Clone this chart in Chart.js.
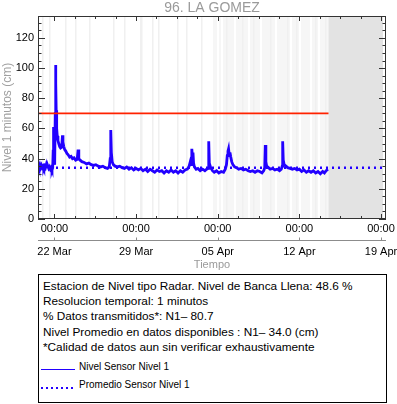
<!DOCTYPE html>
<html>
<head>
<meta charset="utf-8">
<script src="https://cdn.jsdelivr.net/npm/chart.js@4.4.1/dist/chart.umd.min.js"></script>
<style>
  body { margin: 0; background: #fff; font-family: "Liberation Sans", Arial, sans-serif; }
  #hoja { position: relative; width: 397px; height: 404px; overflow: hidden; }
  #grafica { position: absolute; left: 0; top: 0; }
  #cuadro { position: absolute; left: 38px; top: 274px; width: 347px; height: 127px; border: 1px solid #000; }
  .nota { position: absolute; left: 4px; font-size: 11.8px; line-height: 15px; color: #000; white-space: nowrap; }
  .ley { position: absolute; left: 40px; font-size: 10px; line-height: 12px; color: #000; white-space: nowrap; }
  .muestra { position: absolute; left: 2px; width: 34px; }
</style>
</head>
<body>
<div id="hoja">
  <canvas id="grafica" width="397" height="272"></canvas>
  <div id="cuadro"></div>
</div>
<script>
// dias contados desde 22 Mar 00:00
const titulo = "96. LA GOMEZ";
const diasTicks = [0, 7, 14, 21, 28];
const horasTicks = ["00:00", "00:00", "00:00", "00:00", "00:00"];
const fechasTicks = ["22 Mar", "29 Mar", "05 Apr", "12 Apr", "19 Apr"];
const nivelTicks = [0, 20, 40, 60, 80, 100, 120];

const inicio = -1.41;
const fin = 28.43;
const finDatos = 23.5;
const finVentana = 28.17;

const tiempo = [
  -1.40, -1.33, -1.26, -1.19, -1.12, -1.05, -0.98, -0.91, -0.84, -0.77, -0.70, -0.63, -0.56, -0.49,
  -0.42, -0.35, -0.28, -0.21, -0.15, -0.11, -0.09, -0.06, -0.03, 0.02, 0.07, 0.10, 0.12, 0.15, 0.19,
  0.24, 0.30, 0.37, 0.45, 0.53, 0.62, 0.69, 0.73, 0.80, 0.88, 0.97, 1.07, 1.18, 1.30, 1.42, 1.55,
  1.68, 1.82, 1.95, 2.03, 2.09, 2.20, 2.35, 2.55, 2.75, 2.95, 3.15, 3.35, 3.55, 3.75, 3.95, 4.15,
  4.35, 4.55, 4.70, 4.78, 4.83, 4.88, 4.95, 5.05, 5.2, 5.4, 5.6, 5.8, 6.0, 6.2, 6.4, 6.6, 6.8, 7.0,
  7.2, 7.4, 7.6, 7.8, 8.0, 8.2, 8.4, 8.6, 8.8, 9.0, 9.2, 9.4, 9.6, 9.8, 10.0, 10.2, 10.4, 10.6, 10.8,
  11.0, 11.2, 11.4, 11.55, 11.65, 11.73, 11.78, 11.83, 11.88, 11.93, 12.0, 12.15, 12.3, 12.5, 12.7,
  12.9, 13.05, 13.18, 13.23, 13.28, 13.4, 13.55, 13.7, 13.9, 14.1, 14.3, 14.5, 14.65, 14.75, 14.82,
  14.88, 14.93, 14.98, 15.05, 15.12, 15.2, 15.3, 15.45, 15.6, 15.8, 16.0, 16.2, 16.4, 16.6, 16.8,
  17.0, 17.2, 17.4, 17.6, 17.8, 17.95, 18.03, 18.08, 18.13, 18.2, 18.35, 18.5, 18.7, 18.9, 19.1,
  19.3, 19.45, 19.53, 19.57, 19.62, 19.7, 19.85, 20.0, 20.2, 20.4, 20.6, 20.8, 21.0, 21.2, 21.4,
  21.6, 21.8, 22.0, 22.2, 22.4, 22.6, 22.8, 23.0, 23.15, 23.3, 23.45
];
const nivel = [
  36.5, 34.5, 36, 34, 35.5, 34, 35, 33.5, 35, 34, 36, 34.5, 35, 33.5,
  34.5, 33, 34, 32.5, 34, 45, 61, 48, 38, 36, 70, 102, 90, 72, 60,
  55, 52, 50, 48, 47, 47.5, 55.5, 51, 48, 46, 45, 43.5, 42.5, 41, 41.5, 40,
  40.5, 39, 39.5, 46, 40, 39, 38, 37.5, 36.5, 37, 36, 35.5, 36, 35, 34.5, 35,
  34, 33.5, 34.5, 40, 59, 44, 38, 36, 35, 34.5, 35, 34, 33.5, 34.5, 33, 34, 32.5, 33.5,
  32.5, 33.5, 32, 33, 31.5, 33, 32, 31, 32.5, 31.5, 32, 30.5, 32, 31, 32.5, 31, 32, 30.5, 32,
  31, 32.5, 33, 35, 38, 36, 46.5, 41, 44, 37, 34.5, 33, 33.5, 32, 33,
  32, 33, 33.5, 51.5, 37, 34, 32, 31, 32, 30.5, 31.5, 31, 33, 36, 42,
  45, 46.5, 43, 44, 41, 38, 36, 34.5, 34, 33, 33.5, 32.5, 33, 32, 31.5,
  32, 31, 32, 31.5, 30.5, 32, 34, 49, 38, 35, 34, 33, 33.5, 32.5, 33,
  32, 33, 35, 51.5, 39, 36, 35, 34, 33.5, 33, 33.5, 32.5, 33, 31.5, 32.5,
  31, 32, 31, 32, 30.5, 31.5, 30, 31.5, 30.5, 32, 33
];

const nivelBancaLlena = 70;
const nivelPromedio = 34;

// franjas de datos faltantes (dias)
const diasSinDatos = [-1.1, -0.45, 0.9, 1.8, 3.0, 5.0, 6.0, 7.35, 7.45, 8.4, 8.9, 10.5,
  11.3, 12.6, 14.7, 16.1, 17.0, 18.5, 19.9, 20.7, 22.3, 23.2];
const diasBlancos = [13.9, 14.3, 15.4, 16.6, 17.6, 18.9, 20.2, 21.0, 21.9, 22.6];

const notas = [
  "Estacion de Nivel tipo Radar. Nivel de Banca Llena: 48.6 %",
  "Resolucion temporal: 1 minutos",
  "% Datos transmitidos*: N1\u2013 80.7",
  "Nivel Promedio en datos disponibles : N1\u2013 34.0 (cm)",
  "*Calidad de datos aun sin verificar exhaustivamente"
];
const leyendas = ["Nivel Sensor Nivel 1", "Promedio Sensor Nivel 1"];

const azul = "#2200ff";
const rojo = "#ff2200";
const fuente = "'Liberation Sans', Arial, sans-serif";

const serie = tiempo.map((t, i) => ({ x: t, y: nivel[i] }));

function fijarTicks(valores) {
  return (scale) => { scale.ticks = valores.map((v) => ({ value: v })); };
}
function sinPadding(scale) {
  scale.paddingLeft = 0; scale.paddingRight = 0;
  scale.paddingTop = 0; scale.paddingBottom = 0;
}

const marco = {
  id: "marco",
  beforeDatasetsDraw(chart) {
    const { ctx, chartArea: a, scales: { x } } = chart;
    const px = (v) => x.getPixelForValue(v);
    ctx.save();
    ctx.fillStyle = "#f6f6f6";
    ctx.fillRect(px(13.6), a.top, px(finDatos) - px(13.6), a.height);
    ctx.fillStyle = "#ffffff";
    diasBlancos.forEach((d) => ctx.fillRect(Math.round(px(d)), a.top, 2, a.height));
    ctx.fillStyle = "#f0f0f0";
    diasSinDatos.forEach((d) => ctx.fillRect(Math.round(px(d)), a.top, 1.5, a.height));
    ctx.fillStyle = "#e3e3e3";
    ctx.fillRect(px(finDatos), a.top, px(finVentana) - px(finDatos), a.height);
    ctx.restore();
  },
  afterDraw(chart) {
    const { ctx, chartArea: a, scales: { x, y } } = chart;
    ctx.save();
    ctx.strokeStyle = "#333";
    ctx.lineWidth = 1;
    ctx.strokeRect(a.left + 0.5, a.top + 0.5, a.width - 1, a.height - 1);
    ctx.beginPath();
    for (let v = 0; v <= y.max; v += 5) {
      const py = Math.round(y.getPixelForValue(v)) + 0.5;
      const l = v % 20 === 0 ? 7 : 3.5;
      ctx.moveTo(a.left, py); ctx.lineTo(a.left + l, py);
      ctx.moveTo(a.right, py); ctx.lineTo(a.right - l, py);
    }
    for (let d = 0; d <= fin; d += 1.75) {
      const pxx = Math.round(x.getPixelForValue(d)) + 0.5;
      const l = d % 7 === 0 ? 5 : 3;
      ctx.moveTo(pxx, a.bottom); ctx.lineTo(pxx, a.bottom - l);
      ctx.moveTo(pxx, a.top); ctx.lineTo(pxx, a.top + l);
    }
    ctx.stroke();
    // eje de fechas
    const yf = 240.5;
    ctx.strokeStyle = "#8c8c8c";
    ctx.beginPath();
    ctx.moveTo(a.left, yf); ctx.lineTo(a.right, yf);
    diasTicks.forEach((d) => {
      const pxx = Math.round(x.getPixelForValue(d)) + 0.5;
      ctx.moveTo(pxx, yf); ctx.lineTo(pxx, yf - 3);
    });
    ctx.stroke();
    // titulo
    ctx.fillStyle = "#9a9a9a";
    ctx.font = "14px " + fuente;
    ctx.textAlign = "center";
    ctx.textBaseline = "middle";
    ctx.fillText(titulo, (a.left + a.right) / 2, 8);
    ctx.restore();
  }
};

new Chart(document.getElementById("grafica"), {
  type: "line",
  data: {
    datasets: [
      {
        label: leyendas[1],
        data: [{ x: inicio, y: nivelPromedio }, { x: finVentana, y: nivelPromedio }],
        borderColor: azul,
        borderWidth: 2.5,
        borderDash: [2, 4],
        pointRadius: 0,
      },
      {
        label: "Banca llena",
        data: [{ x: inicio, y: nivelBancaLlena }, { x: finDatos, y: nivelBancaLlena }],
        borderColor: rojo,
        borderWidth: 1.6,
        pointRadius: 0,
      },
      {
        label: leyendas[0],
        data: serie,
        borderColor: azul,
        borderWidth: 2.8,
        pointRadius: 0,
        tension: 0,
      },
    ],
  },
  options: {
    responsive: false,
    animation: false,
    layout: { padding: { top: 16, right: 11, left: 0, bottom: 0 } },
    plugins: { legend: { display: false }, tooltip: { enabled: false } },
    scales: {
      x: {
        type: "linear",
        position: "bottom",
        min: inicio,
        max: fin,
        afterBuildTicks: fijarTicks(diasTicks),
        afterFit: (s) => { s.height = 21; sinPadding(s); },
        grid: { display: false, drawTicks: false },
        border: { display: false },
        ticks: {
          autoSkip: false,
          maxRotation: 0,
          padding: 3,
          color: "#000",
          font: { family: fuente, size: 11 },
          callback: (v) => horasTicks[diasTicks.indexOf(v)],
        },
      },
      x2: {
        type: "linear",
        position: "bottom",
        min: inicio,
        max: fin,
        afterBuildTicks: fijarTicks(diasTicks),
        afterFit: (s) => { s.height = 32; sinPadding(s); },
        grid: { display: false, drawTicks: false },
        border: { display: false },
        ticks: {
          autoSkip: false,
          maxRotation: 0,
          padding: 5,
          color: "#000",
          font: { family: fuente, size: 11 },
          callback: (v) => fechasTicks[diasTicks.indexOf(v)],
        },
        title: {
          display: true,
          text: "Tiempo",
          color: "#9a9a9a",
          padding: 0,
          font: { family: fuente, size: 11 },
        },
      },
      y: {
        min: 0,
        max: 134.5,
        afterBuildTicks: fijarTicks(nivelTicks),
        afterFit: (s) => { s.width = 38; sinPadding(s); },
        grid: { display: false, drawTicks: false },
        border: { display: false },
        ticks: {
          autoSkip: false,
          padding: 4,
          color: "#000",
          font: { family: fuente, size: 11 },
        },
        title: {
          display: true,
          text: "Nivel 1 minutos (cm)",
          color: "#a0a0a0",
          padding: 0,
          font: { family: fuente, size: 12 },
        },
      },
    },
  },
  plugins: [marco],
});

// cuadro de notas
const cuadro = document.getElementById("cuadro");
notas.forEach((texto, i) => {
  const d = document.createElement("div");
  d.className = "nota";
  d.style.top = (4 + i * 15.2) + "px";
  d.textContent = texto;
  cuadro.appendChild(d);
});
leyendas.forEach((texto, i) => {
  const top = 86 + i * 18.3;
  const m = document.createElement("div");
  m.className = "muestra";
  m.style.top = (top + 8) + "px";
  if (i === 0) {
    m.style.borderTop = "1px solid " + azul;
  } else {
    m.style.height = "2px";
    m.style.background = "repeating-linear-gradient(90deg, " + azul + " 0 2px, transparent 2px 5px)";
  }
  cuadro.appendChild(m);
  const t = document.createElement("div");
  t.className = "ley";
  t.style.top = top + "px";
  t.textContent = texto;
  cuadro.appendChild(t);
});
</script>
</body>
</html>
